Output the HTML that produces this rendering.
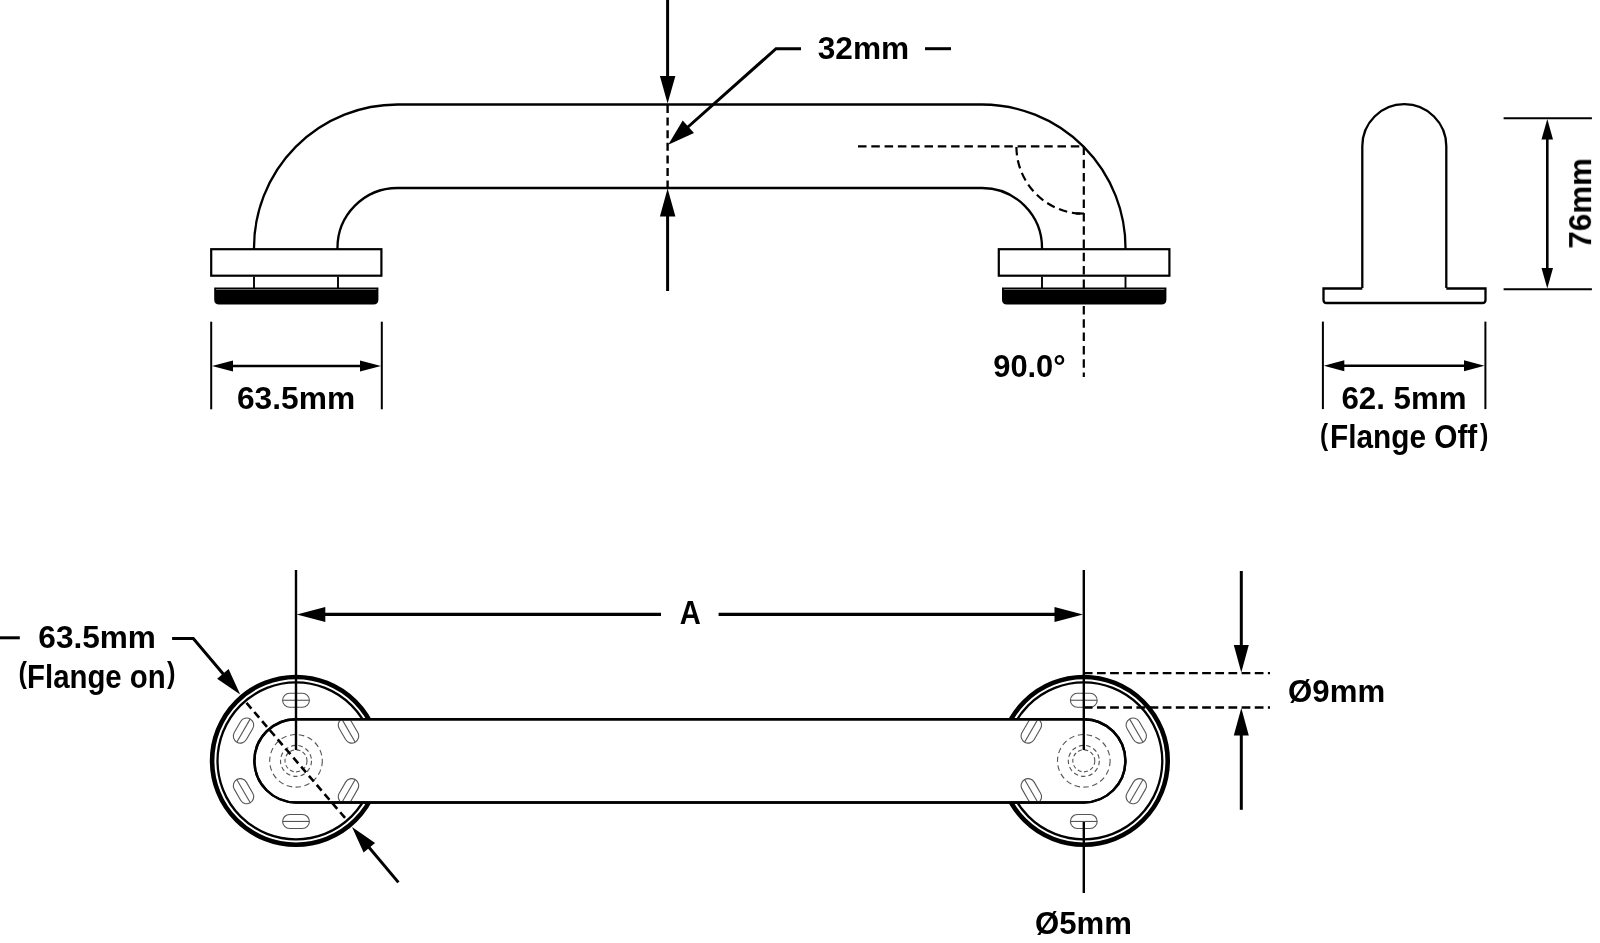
<!DOCTYPE html>
<html><head><meta charset="utf-8"><style>
html,body{margin:0;padding:0;background:#fff;}
svg{display:block;}
</style></head><body>
<svg width="1600" height="943" viewBox="0 0 1600 943">
<rect width="1600" height="943" fill="#fff"/>
<g fill="none" stroke="#000" stroke-width="2.3">
<path d="M254,249 A143.5,143.5 0 0 1 397.5,104.5 L982,104.5 A143.5,143.5 0 0 1 1125.5,249"/>
<path d="M337.5,249 A60,60 0 0 1 397.5,188 L982,188 A60,60 0 0 1 1042,249"/>
<rect x="211.2" y="249.2" width="170.2" height="26.5" stroke-width="2.2"/>
<rect x="998.8" y="249.2" width="170.6" height="26.5" stroke-width="2.2"/>
</g>
<line x1="254" y1="276.7" x2="254" y2="288" stroke="#000" stroke-width="1.9" />
<line x1="338" y1="276.7" x2="338" y2="288" stroke="#000" stroke-width="1.9" />
<line x1="1042" y1="276.7" x2="1042" y2="288" stroke="#000" stroke-width="1.9" />
<line x1="1125.5" y1="276.7" x2="1125.5" y2="288" stroke="#000" stroke-width="1.9" />
<path d="M214.2,287.4 L378.4,287.4 L378.4,299.5 Q378.4,304.5 373.4,304.5 L219.2,304.5 Q214.2,304.5 214.2,299.5 Z" fill="#000"/>
<path d="M1002,287.4 L1166.4,287.4 L1166.4,299.5 Q1166.4,304.5 1161.4,304.5 L1007,304.5 Q1002,304.5 1002,299.5 Z" fill="#000"/>
<line x1="216" y1="289.5" x2="376.5" y2="289.5" stroke="#8a8a8a" stroke-width="0.8"/>
<line x1="1004" y1="289.5" x2="1164.5" y2="289.5" stroke="#8a8a8a" stroke-width="0.8"/>
<line x1="667.6" y1="0" x2="667.6" y2="87.0" stroke="#000" stroke-width="3"/><polygon fill="#000" points="667.6,103.5 659.9,76.0 675.4,76.0"/>
<line x1="667.6" y1="291" x2="667.6" y2="205.3" stroke="#000" stroke-width="3"/><polygon fill="#000" points="667.6,188.5 675.4,216.5 659.9,216.5"/>
<line x1="667.6" y1="105" x2="667.6" y2="187" stroke="#000" stroke-width="2.4" stroke-dasharray="8 4.6"/>
<polyline fill="none" stroke="#000" points="801,48.7 776,48.7 684,130.5" stroke-width="3"/>
<polygon fill="#000" points="668.2,144.7 682.7,120.4 694.0,133.1"/>
<line x1="925" y1="48.7" x2="951" y2="48.7" stroke="#000" stroke-width="3" />
<g stroke="#000" fill="none" stroke-width="2.2" stroke-dasharray="8.5 4.8">
<line x1="858" y1="146.4" x2="1083.8" y2="146.4"/>
<line x1="1083.8" y1="146.4" x2="1083.8" y2="377"/>
<path d="M1016.4,147 A67.4,67.4 0 0 0 1083.8,213.8"/>
</g>
<line x1="1076" y1="213.5" x2="1083.8" y2="213.5" stroke="#000" stroke-width="2.2" />
<line x1="211.2" y1="321.7" x2="211.2" y2="409.3" stroke="#000" stroke-width="2" />
<line x1="381.8" y1="321.7" x2="381.8" y2="409.3" stroke="#000" stroke-width="2" />
<line x1="225" y1="366" x2="368" y2="366" stroke="#000" stroke-width="2.6" />
<polygon fill="#000" points="212.0,366.0 233.0,360.5 233.0,371.5"/>
<polygon fill="#000" points="381.0,366.0 360.0,371.5 360.0,360.5"/>
<g fill="none" stroke="#000" stroke-width="2.3">
<path d="M1362.3,288 L1362.3,146.2 A42,42 0 0 1 1446.3,146.2 L1446.3,288"/>
<path d="M1362.3,288.5 L1323.5,288.5 L1323.5,300 Q1323.5,303 1326.5,303 L1482.5,303 Q1485.5,303 1485.5,300 L1485.5,288.5 L1446.3,288.5"/>
</g>
<line x1="1503.6" y1="118.2" x2="1591.9" y2="118.2" stroke="#000" stroke-width="2" />
<line x1="1503.6" y1="289.2" x2="1591.9" y2="289.2" stroke="#000" stroke-width="2" />
<line x1="1547.3" y1="135" x2="1547.3" y2="272" stroke="#000" stroke-width="2.6" />
<line x1="1322.9" y1="321.6" x2="1322.9" y2="409.1" stroke="#000" stroke-width="2" />
<line x1="1485.4" y1="321.6" x2="1485.4" y2="409.1" stroke="#000" stroke-width="2" />
<line x1="1338" y1="365.8" x2="1470" y2="365.8" stroke="#000" stroke-width="2.6" />
<polygon fill="#000" points="1547.3,119.0 1553.0,139.4 1541.5,139.4"/>
<polygon fill="#000" points="1547.3,288.5 1541.5,268.1 1553.0,268.1"/>
<polygon fill="#000" points="1323.8,365.8 1344.3,360.3 1344.3,371.3"/>
<polygon fill="#000" points="1484.5,365.8 1464.0,371.3 1464.0,360.3"/>
<circle cx="296.0" cy="760.85" r="83.9" fill="#fff" stroke="#000" stroke-width="4.6"/>
<circle cx="296.0" cy="760.85" r="78.5" fill="none" stroke="#000" stroke-width="2.3"/>
<circle cx="1083.8" cy="760.85" r="83.9" fill="#fff" stroke="#000" stroke-width="4.6"/>
<circle cx="1083.8" cy="760.85" r="78.5" fill="none" stroke="#000" stroke-width="2.3"/>
<defs><clipPath id="barclip"><path d="M296.0,719.25 L1083.8,719.25 A41.6,41.6 0 0 1 1083.8,802.45 L296.0,802.45 A41.6,41.6 0 0 1 296.0,719.25 Z"/></clipPath></defs>
<path d="M296.0,719.25 L1083.8,719.25 A41.6,41.6 0 0 1 1083.8,802.45 L296.0,802.45 A41.6,41.6 0 0 1 296.0,719.25 Z" fill="#fff" stroke="#000" stroke-width="2.4"/>
<g fill="none" stroke="#555" stroke-width="1.1">
<g clip-path="url(#barclip)"><g transform="translate(348.48,730.55) rotate(60)"><rect x="-13.4" y="-7" width="26.8" height="14" rx="7"/><line x1="-13.2" y1="0" x2="13.2" y2="0"/></g></g>
<g><g transform="translate(296.00,700.25) rotate(0)"><rect x="-13.4" y="-7" width="26.8" height="14" rx="7"/><line x1="-13.2" y1="0" x2="13.2" y2="0"/></g></g>
<g><g transform="translate(243.52,730.55) rotate(-60)"><rect x="-13.4" y="-7" width="26.8" height="14" rx="7"/><line x1="-13.2" y1="0" x2="13.2" y2="0"/></g></g>
<g><g transform="translate(243.52,791.15) rotate(-120)"><rect x="-13.4" y="-7" width="26.8" height="14" rx="7"/><line x1="-13.2" y1="0" x2="13.2" y2="0"/></g></g>
<g><g transform="translate(296.00,821.45) rotate(-180)"><rect x="-13.4" y="-7" width="26.8" height="14" rx="7"/><line x1="-13.2" y1="0" x2="13.2" y2="0"/></g></g>
<g clip-path="url(#barclip)"><g transform="translate(348.48,791.15) rotate(-240)"><rect x="-13.4" y="-7" width="26.8" height="14" rx="7"/><line x1="-13.2" y1="0" x2="13.2" y2="0"/></g></g>
<circle cx="296.0" cy="760.85" r="26.3" stroke-dasharray="5.5 3.5"/>
<circle cx="296.0" cy="760.85" r="15.5" stroke-dasharray="4.5 3"/>
<circle cx="296.0" cy="760.85" r="11" stroke-dasharray="4 2.5"/>
</g>
<g fill="none" stroke="#555" stroke-width="1.1">
<g><g transform="translate(1136.28,730.55) rotate(60)"><rect x="-13.4" y="-7" width="26.8" height="14" rx="7"/><line x1="-13.2" y1="0" x2="13.2" y2="0"/></g></g>
<g><g transform="translate(1083.80,700.25) rotate(0)"><rect x="-13.4" y="-7" width="26.8" height="14" rx="7"/><line x1="-13.2" y1="0" x2="13.2" y2="0"/></g></g>
<g clip-path="url(#barclip)"><g transform="translate(1031.32,730.55) rotate(-60)"><rect x="-13.4" y="-7" width="26.8" height="14" rx="7"/><line x1="-13.2" y1="0" x2="13.2" y2="0"/></g></g>
<g clip-path="url(#barclip)"><g transform="translate(1031.32,791.15) rotate(-120)"><rect x="-13.4" y="-7" width="26.8" height="14" rx="7"/><line x1="-13.2" y1="0" x2="13.2" y2="0"/></g></g>
<g><g transform="translate(1083.80,821.45) rotate(-180)"><rect x="-13.4" y="-7" width="26.8" height="14" rx="7"/><line x1="-13.2" y1="0" x2="13.2" y2="0"/></g></g>
<g><g transform="translate(1136.28,791.15) rotate(-240)"><rect x="-13.4" y="-7" width="26.8" height="14" rx="7"/><line x1="-13.2" y1="0" x2="13.2" y2="0"/></g></g>
<circle cx="1083.8" cy="760.85" r="26.3" stroke-dasharray="5.5 3.5"/>
<circle cx="1083.8" cy="760.85" r="15.5" stroke-dasharray="4.5 3"/>
<circle cx="1083.8" cy="760.85" r="11" stroke-dasharray="4 2.5"/>
</g>
<path d="M296.0,719.25 L1083.8,719.25 A41.6,41.6 0 0 1 1083.8,802.45 L296.0,802.45 A41.6,41.6 0 0 1 296.0,719.25 Z" fill="none" stroke="#000" stroke-width="2.4"/>
<line x1="296.0" y1="570" x2="296.0" y2="750" stroke="#000" stroke-width="2.4" />
<line x1="1083.8" y1="570" x2="1083.8" y2="750" stroke="#000" stroke-width="2.4" />
<line x1="1083.8" y1="822" x2="1083.8" y2="893" stroke="#000" stroke-width="2.4" />
<line x1="661" y1="614.4" x2="313.9" y2="614.4" stroke="#000" stroke-width="3.1"/><polygon fill="#000" points="296.8,614.4 325.3,606.9 325.3,621.9"/>
<line x1="718.6" y1="614.4" x2="1065.9" y2="614.4" stroke="#000" stroke-width="3.1"/><polygon fill="#000" points="1083.0,614.4 1054.5,621.9 1054.5,606.9"/>
<line x1="0" y1="637.8" x2="19.8" y2="637.8" stroke="#000" stroke-width="3" />
<polyline fill="none" stroke="#000" points="172.1,638.6 193.3,638.6 230,682" stroke-width="3"/>
<polygon fill="#000" points="240.2,694.6 217.1,678.7 228.6,669.1"/>
<line x1="398.4" y1="882.4" x2="362.4" y2="839.5" stroke="#000" stroke-width="3"/><polygon fill="#000" points="352.0,827.1 375.1,843.0 363.6,852.6"/>
<line x1="246.5" y1="702.9" x2="345.5" y2="818.5" stroke="#000" stroke-width="2.6" stroke-dasharray="7.5 4.5"/>
<line x1="1083.8" y1="673.1" x2="1270" y2="673.1" stroke="#000" stroke-width="2.4" stroke-dasharray="8.75 4.4"/>
<line x1="1083.8" y1="707.5" x2="1270" y2="707.5" stroke="#000" stroke-width="2.4" stroke-dasharray="8.75 4.4"/>
<line x1="1241.3" y1="571" x2="1241.3" y2="656.0" stroke="#000" stroke-width="3"/><polygon fill="#000" points="1241.3,672.5 1233.8,645.0 1248.8,645.0"/>
<line x1="1241.3" y1="809.8" x2="1241.3" y2="724.5" stroke="#000" stroke-width="3"/><polygon fill="#000" points="1241.3,708.0 1248.8,735.5 1233.8,735.5"/>
<g font-family="Liberation Sans, sans-serif" font-weight="bold" fill="#000" style="will-change:transform">
<text x="817.77" y="59.00" font-size="31.51" textLength="91.39" lengthAdjust="spacingAndGlyphs">32mm</text>
<text x="993.23" y="376.50" font-size="32.22" textLength="72.40" lengthAdjust="spacingAndGlyphs">90.0°</text>
<text x="236.94" y="408.70" font-size="31.36" textLength="118.23" lengthAdjust="spacingAndGlyphs">63.5mm</text>
<text x="1341.46" y="408.60" font-size="30.93" textLength="125.08" lengthAdjust="spacingAndGlyphs">62. 5mm</text>
<text x="1320.08" y="444.86" font-size="28.64" textLength="8.14" lengthAdjust="spacingAndGlyphs">(</text>
<text x="1330.01" y="448.40" font-size="33.29" textLength="147.23" lengthAdjust="spacingAndGlyphs">Flange Off</text>
<text x="1479.88" y="444.86" font-size="28.64" textLength="8.38" lengthAdjust="spacingAndGlyphs">)</text>
<text x="679.77" y="624.00" font-size="33.43" textLength="21.10" lengthAdjust="spacingAndGlyphs">A</text>
<text x="38.34" y="647.80" font-size="31.65" textLength="117.61" lengthAdjust="spacingAndGlyphs">63.5mm</text>
<text x="18.43" y="683.04" font-size="29.18" textLength="8.50" lengthAdjust="spacingAndGlyphs">(</text>
<text x="27.04" y="687.50" font-size="33.72" textLength="138.69" lengthAdjust="spacingAndGlyphs">Flange on</text>
<text x="166.98" y="682.96" font-size="28.64" textLength="8.50" lengthAdjust="spacingAndGlyphs">)</text>
<text x="1288.12" y="701.50" font-size="31.65" textLength="97.01" lengthAdjust="spacingAndGlyphs">Ø9mm</text>
<text x="1035.02" y="933.80" font-size="31.69" textLength="96.91" lengthAdjust="spacingAndGlyphs">Ø5mm</text>
<g transform="translate(1591.10,248.65) rotate(-90)"><text x="0" y="0" font-size="32.12" textLength="90.69" lengthAdjust="spacingAndGlyphs">76mm</text></g>
</g>
</svg>
</body></html>
